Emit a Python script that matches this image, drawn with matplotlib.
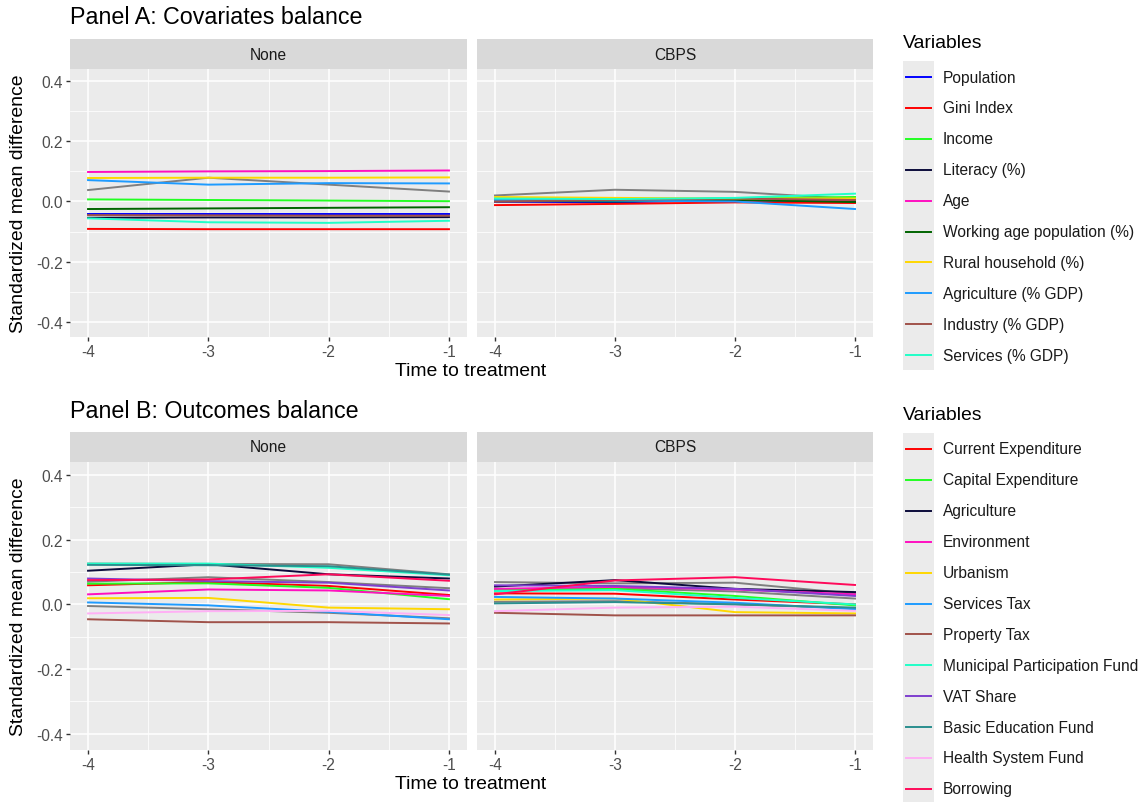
import matplotlib
matplotlib.use("Agg")
import matplotlib.pyplot as plt
from matplotlib.lines import Line2D

plt.rcParams['font.family'] = ['Liberation Sans', 'DejaVu Sans']

W, H = 1146, 803
K = 1.27  # ggplot size scale

times = [-4, -3, -2, -1]

# Panel A: covariates
cov_names = ["Population", "Gini Index", "Income", "Literacy (%)", "Age",
             "Working age population (%)", "Rural household (%)",
             "Agriculture (% GDP)", "Industry (% GDP)", "Services (% GDP)"]
cov_colors = ["#0000FF", "#FF0000", "#22FF22", "#0B0B3B", "#FF10C0",
              "#006400", "#FFD700", "#1E9BFF", "#A0524A", "#20FFC8"]
cov_none = [
    [-0.040, -0.040, -0.040, -0.040],
    [-0.091, -0.092, -0.092, -0.092],
    [0.007, 0.005, 0.003, 0.001],
    [-0.054, -0.053, -0.053, -0.052],
    [0.098, 0.100, 0.101, 0.103],
    [-0.025, -0.023, -0.021, -0.019],
    [0.078, 0.079, 0.079, 0.080],
    [0.071, 0.056, 0.061, 0.060],
    [-0.045, -0.046, -0.047, -0.047],
    [-0.056, -0.069, -0.071, -0.064],
]
cov_cbps = [
    [0.000, -0.003, 0.005, 0.000],
    [-0.012, -0.008, -0.003, -0.005],
    [0.008, 0.005, 0.010, 0.015],
    [0.000, 0.002, 0.004, 0.002],
    [0.005, 0.004, 0.008, 0.005],
    [0.003, 0.000, 0.006, -0.002],
    [0.015, 0.012, 0.010, 0.010],
    [0.005, 0.003, 0.000, -0.025],
    [0.000, 0.005, 0.010, 0.005],
    [0.010, 0.008, 0.012, 0.026],
]
cov_other_none = [[0.038, 0.079, 0.056, 0.033]]
cov_other_cbps = [[0.020, 0.039, 0.032, 0.008]]

# Panel B: outcomes
out_names = ["Current Expenditure", "Capital Expenditure", "Agriculture",
             "Environment", "Urbanism", "Services Tax", "Property Tax",
             "Municipal Participation Fund", "VAT Share",
             "Basic Education Fund", "Health System Fund", "Borrowing"]
out_colors = ["#FF0000", "#22FF22", "#0B0B3B", "#FF10C0", "#FFD700",
              "#1E9BFF", "#A0524A", "#20FFC8", "#7F3FCF", "#2A8F8F",
              "#FFB0F5", "#FF0A5A"]
out_none = [
    [0.059, 0.069, 0.057, 0.029],
    [0.064, 0.065, 0.051, 0.016],
    [0.104, 0.124, 0.093, 0.080],
    [0.031, 0.046, 0.043, 0.026],
    [0.019, 0.020, -0.010, -0.015],
    [0.006, -0.003, -0.023, -0.046],
    [-0.046, -0.055, -0.055, -0.059],
    [0.126, 0.126, 0.113, 0.090],
    [0.080, 0.072, 0.067, 0.043],
    [0.122, 0.121, 0.118, 0.092],
    [-0.028, -0.021, -0.020, -0.033],
    [0.075, 0.077, 0.093, 0.073],
]
out_cbps = [
    [0.034, 0.033, 0.015, 0.000],
    [0.046, 0.048, 0.026, -0.003],
    [0.055, 0.075, 0.048, 0.038],
    [0.048, 0.054, 0.046, 0.031],
    [0.015, 0.018, -0.024, -0.028],
    [0.023, 0.018, 0.005, -0.015],
    [-0.026, -0.034, -0.034, -0.034],
    [0.041, 0.044, 0.020, 0.000],
    [0.059, 0.057, 0.048, 0.026],
    [0.003, 0.007, 0.000, -0.010],
    [-0.021, -0.010, -0.007, -0.020],
    [0.031, 0.074, 0.084, 0.060],
]
out_other_none = [[0.126, 0.125, 0.124, 0.093],
                  [0.070, 0.084, 0.069, 0.050],
                  [-0.005, -0.015, -0.026, -0.043]]
out_other_cbps = [[0.069, 0.065, 0.067, 0.033],
                  [0.045, 0.050, 0.040, 0.018],
                  [0.008, 0.010, 0.000, -0.012]]

panel_labels = ["None", "CBPS"]
yticks = [-0.4, -0.2, 0.0, 0.2, 0.4]

fig = plt.figure(figsize=(W / 100, H / 100), dpi=100)


def box(x0, y0, x1, y1):
    return [x0 / W, 1 - y1 / H, (x1 - x0) / W, (y1 - y0) / H]


def draw_panel(x0, x1, top, bottom, label, rows, colors, others, show_y):
    # strip
    sax = fig.add_axes(box(x0, top - 30, x1, top))
    sax.set_facecolor("#D9D9D9")
    sax.set_xticks([])
    sax.set_yticks([])
    for s in sax.spines.values():
        s.set_visible(False)
    sax.text(0.5, 0.5, label, ha="center", va="center",
             fontsize=8.8 * K, color="#1A1A1A", transform=sax.transAxes)

    ax = fig.add_axes(box(x0, top, x1, bottom))
    ax.set_facecolor("#EBEBEB")
    for s in ax.spines.values():
        s.set_visible(False)
    ax.set_xlim(-4.15, -0.85)
    ax.set_ylim(-0.45, 0.44)
    ax.set_xticks(times)
    ax.set_xticklabels([str(t) for t in times])
    ax.set_xticks([-3.5, -2.5, -1.5], minor=True)
    ax.set_yticks(yticks)
    ax.set_yticks([-0.3, -0.1, 0.1, 0.3], minor=True)
    if show_y:
        ax.set_yticklabels([f"{v:.1f}" for v in yticks])
    else:
        ax.set_yticklabels([])
    ax.grid(True, which="major", color="white", linewidth=1.1)
    ax.grid(True, which="minor", color="white", linewidth=0.55)
    ax.set_axisbelow(True)
    ax.tick_params(which="major", length=3.2, width=1.0, color="#333333",
                   labelsize=8.8 * K, labelcolor="#4D4D4D", pad=2)
    ax.tick_params(axis="y", which="major", left=show_y)
    ax.tick_params(which="minor", length=0)
    for vals in others:
        ax.plot(times, vals, color="#7F7F7F", linewidth=1.4)
    for vals, c in zip(rows, colors):
        ax.plot(times, vals, color=c, linewidth=1.4)
    return ax


def draw_legend(names, colors, title_y, first_y, key_top, key_bottom):
    fig.text(903 / W, 1 - title_y / H, "Variables", ha="left", va="center",
             fontsize=11 * K, color="black")
    kax = fig.add_axes(box(903, key_top, 934, key_bottom))
    kax.set_facecolor("#EBEBEB")
    kax.set_xticks([])
    kax.set_yticks([])
    for s in kax.spines.values():
        s.set_visible(False)
    for i, (n, c) in enumerate(zip(names, colors)):
        y = first_y + i * 30.9
        fig.lines.append(Line2D([906 / W, 931 / W], [1 - y / H, 1 - y / H],
                                color=c, linewidth=1.4, transform=fig.transFigure))
        fig.text(943 / W, 1 - y / H, n, ha="left", va="center",
                 fontsize=8.8 * K, color="#1A1A1A")


panels = [
    (70, 70, 338, "Panel A: Covariates balance", cov_none, cov_cbps,
     cov_colors, cov_other_none, cov_other_cbps),
    (463, 463, 751, "Panel B: Outcomes balance", out_none, out_cbps,
     out_colors, out_other_none, out_other_cbps),
]

for top, _, bottom, title, rn, rc, cols, on, oc in panels:
    draw_panel(70, 467, top, bottom, panel_labels[0], rn, cols, on, True)
    draw_panel(477, 873, top, bottom, panel_labels[1], rc, cols, oc, False)
    fig.text(70 / W, 1 - (top - 30 - 22) / H, title, ha="left", va="center",
             fontsize=13.2 * K, color="black")
    fig.text(471 / W, 1 - (bottom + 34) / H, "Time to treatment", ha="center",
             va="center", fontsize=11 * K, color="black")
    fig.text(19 / W, 1 - ((top + bottom) / 2) / H, "Standardized mean difference",
             ha="center", va="center", rotation=90, fontsize=11 * K, color="black")

draw_legend(cov_names, cov_colors, 44, 78, 62, 371)
draw_legend(out_names, out_colors, 416, 450, 434, 803)

fig.savefig("out.png", dpi=100)
